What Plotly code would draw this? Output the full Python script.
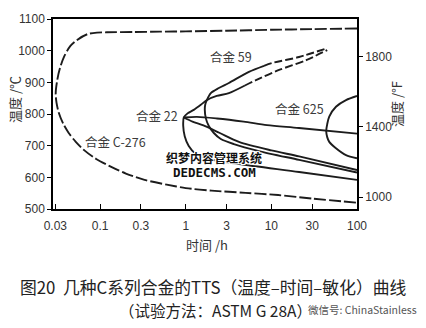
import plotly.graph_objects as go

# ---------------- data (time in h, temperature in °C) ----------------
c276_t = [100, 30, 10, 3, 1, 0.5, 0.25, 0.12, 0.092, 0.071, 0.054, 0.045, 0.038, 0.034, 0.0316,
          0.0303, 0.031, 0.033, 0.037, 0.043, 0.052, 0.065, 0.09, 0.133, 0.2, 0.33, 0.6, 1, 2, 5, 12, 30, 100]
c276_T = [1070, 1068, 1066, 1063, 1061, 1060, 1059, 1058, 1057, 1052, 1034, 1015, 981, 945, 907,
          865, 835, 803, 770, 740, 712, 686, 658, 634, 612, 592, 577, 566, 558, 551, 544, 533, 520]

# alloy 22, outer C-curve (lower branch -> nose -> upper branch, solid part)
a22o_t = [100, 21.1, 4.18, 1.86, 1.31, 1.084, 0.973, 0.935, 0.95, 1.05, 1.241, 1.5, 1.763, 2.3, 3.19, 4.91]
a22o_T = [592, 617, 642, 658, 674, 699, 730, 762, 789, 802, 813, 829, 844, 857, 866, 890]
# alloy 22, outer C-curve dashed tail
a22o_dash_t = [4.91, 6.61, 12.3, 25.5, 44.9]
a22o_dash_T = [890, 907, 939, 970, 1002]

# alloy 22, inner curve (upper flat branch and lower branch)
a22i_up_t = [0.95, 1.35, 2.31, 4.75, 8.9, 21, 100]
a22i_up_T = [789, 791, 786, 776, 765, 756, 738]
a22i_lo_t = [0.95, 1.2, 1.61, 2.5, 4.18, 10, 21.1, 100]
a22i_lo_T = [789, 776, 764, 740, 712, 685, 666, 623]

# alloy 59 (lower branch -> nose -> upper branch, solid part)
a59_t = [100, 21.1, 7.17, 3.65, 2.57, 2.13, 1.86, 1.715, 1.67, 1.69, 1.763, 1.963, 2.436, 3.19, 5.47, 8.2]
a59_T = [615, 655, 683, 705, 721, 740, 762, 787, 813, 830, 844, 866, 882, 898, 933, 952]
a59_dash_t = [8.2, 10.2, 21.1, 44.9]
a59_dash_T = [952, 961, 980, 1008]

# alloy 625
a625_t = [100, 74.4, 56.8, 47.4, 44.9, 43.7, 44.9, 47.4, 56.8, 74.4, 100]
a625_T = [857, 844, 823, 792, 768, 746, 727, 712, 692, 670, 660]

x_ticks = [0.03, 0.1, 0.3, 1, 3, 10, 30, 100]
x_ticktext = ["0.03", "0.1", "0.3", "1", "3", "10", "30", "100"]
yC_ticks = [500, 600, 700, 800, 900, 1000, 1100]
yF_ticks = [1000, 1400, 1800]

labels = ["合金 22", "合金 59", "合金 625", "合金 C-276"]

# ---------------- layout geometry (pixels) ----------------
W, H = 426, 328
L, R, T, B = 53, 357, 19, 209


def px(x):
    return (x - L) / (R - L)


def py(y):
    return (B - y) / (B - T)


INK = "#1c1c1c"
fig = go.Figure()


def add(t, temp, dash="solid", width=1.9):
    fig.add_trace(go.Scatter(x=t, y=temp, mode="lines",
                             line=dict(color=INK, width=width, dash=dash, shape="spline", smoothing=0.8),
                             hoverinfo="skip", showlegend=False))


add(c276_t, c276_T, dash="12px,3px")
add(a22o_t, a22o_T)
add(a22o_dash_t, a22o_dash_T, dash="8px,3px")
add(a22i_up_t, a22i_up_T)
add(a22i_lo_t, a22i_lo_T)
add(a59_t, a59_T)
add(a59_dash_t, a59_dash_T, dash="8px,3px")
add(a625_t, a625_T)

# invisible trace to carry the °F axis
fig.add_trace(go.Scatter(x=c276_t, y=[v * 9 / 5 + 32 for v in c276_T], yaxis="y2", mode="lines",
                         line=dict(width=0), opacity=0, hoverinfo="skip", showlegend=False))

tickfont = dict(family="Liberation Sans, Arial, sans-serif", size=12, color="#333")
cjk = "Noto Sans CJK SC"

fig.update_layout(
    width=W, height=H,
    margin=dict(l=L, r=W - R, t=T, b=H - B, pad=0),
    paper_bgcolor="white", plot_bgcolor="white",
    xaxis=dict(type="log", range=[-1.55, 2.0], tickvals=x_ticks, ticktext=x_ticktext,
               ticks="inside", ticklen=5, tickwidth=1.3, tickcolor="black",
               showline=True, linecolor="black", linewidth=1.5, mirror=True,
               showgrid=False, zeroline=False, tickfont=tickfont, ticklabelstandoff=5),
    yaxis=dict(range=[500, 1100], tickvals=yC_ticks, ticks="outside", ticklen=4, tickwidth=1.3,
               tickcolor="black", showline=True, linecolor="black", linewidth=1.5,
               showgrid=False, zeroline=False, tickfont=tickfont),
    yaxis2=dict(range=[932, 2012], tickvals=yF_ticks, overlaying="y", side="right", ticks="outside",
                ticklen=4, tickwidth=1.3, tickcolor="black", showline=True, linecolor="black",
                linewidth=1.5, showgrid=False, zeroline=False, tickfont=tickfont),
)

ann = []
# curve labels
lab_pos = [(157, 115), (231, 56), (299, 108), (115, 141)]
for txt, (x, y) in zip(labels, lab_pos):
    ann.append(dict(text=txt, x=px(x), y=py(y), font=dict(family=cjk, size=12.5, color="#3a3a3a")))
# axis titles
ann.append(dict(text="温度 /℃", x=px(14), y=py(100), textangle=-90, font=dict(family=cjk, size=13, color="#333")))
ann.append(dict(text="温度 /°F", x=px(397), y=py(104), textangle=-90, font=dict(family=cjk, size=13, color="#333")))
ann.append(dict(text="时间 /h", x=px(207), y=py(245), font=dict(family=cjk, size=13, color="#333")))
# caption
ann.append(dict(text="图20\u00a0\u00a0几种C系列合金的TTS（温度–时间–敏化）曲线", x=px(212.5), y=py(287),
                font=dict(family=cjk, size=16.8, color="#222")))
ann.append(dict(text="（试验方法：ASTM G 28A）", x=px(117), y=py(310), xanchor="left",
                font=dict(family=cjk, size=15.5, color="#222")))
ann.append(dict(text="微信号: ChinaStainless", x=px(306), y=py(309), xanchor="left",
                font=dict(family=cjk, size=10.5, color="#555")))
# site watermark
halo = "1px 1px 0 #fff, -1px -1px 0 #fff, 1px -1px 0 #fff, -1px 1px 0 #fff, 0 1px 0 #fff, 0 -1px 0 #fff, 1px 0 0 #fff, -1px 0 0 #fff"
ann.append(dict(text="织梦内容管理系统", x=px(214), y=py(157),
                font=dict(family=cjk, size=12, color="#111", weight="bold", shadow=halo)))
ann.append(dict(text="DEDECMS.COM", x=px(214), y=py(172),
                font=dict(family="DejaVu Sans Mono", size=12.5, color="#111", weight="bold", shadow=halo)))

for a in ann:
    a.setdefault("xanchor", "center")
    a.update(xref="paper", yref="paper", yanchor="middle", showarrow=False)
fig.update_layout(annotations=ann)

fig.write_html("out.html")
